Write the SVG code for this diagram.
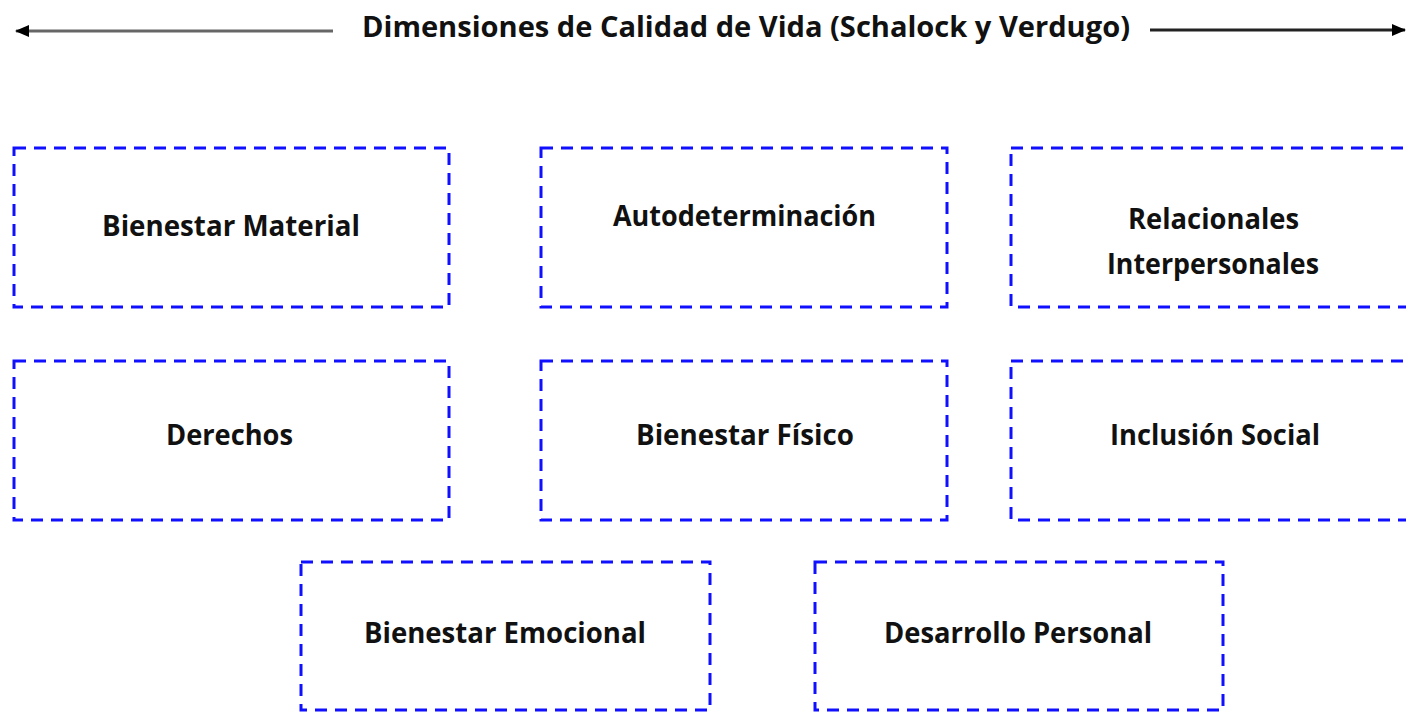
<svg xmlns="http://www.w3.org/2000/svg" width="1406" height="712" viewBox="0 0 1406 712">
<style>
.box{fill:none;stroke:#1010ff;stroke-width:3;stroke-dasharray:12 8}
.t{font-family:"Open Sans","Liberation Sans",sans-serif;font-weight:700;font-size:28px;fill:#111;text-anchor:start}
.ttl{font-family:"Open Sans","Liberation Sans",sans-serif;font-weight:700;font-size:28px;fill:#111}
.ln{stroke-width:3;fill:none}
</style>
<defs>
<marker id="ah" markerWidth="14" markerHeight="12" refX="13" refY="6" orient="auto" markerUnits="userSpaceOnUse" viewBox="0 0 14 12">
<path d="M0,0 L14,6 L0,12 z" fill="#000"/>
</marker>
</defs>
<g id="title">
<text class="ttl" x="362" y="37" textLength="768" lengthAdjust="spacingAndGlyphs">Dimensiones de Calidad de Vida (Schalock  y Verdugo)</text>
</g>
<g id="connectors">
<line class="ln" x1="333" y1="31" x2="16" y2="31" stroke="#666" marker-end="url(#ah)"/>
<line class="ln" x1="1150" y1="30" x2="1405" y2="30" stroke="#222" marker-end="url(#ah)"/>
</g>
<g id="n1"><rect class="box" x="14" y="148" width="435" height="159"/><text class="t" x="102" y="236" textLength="258" lengthAdjust="spacingAndGlyphs">Bienestar Material</text></g>
<g id="n2"><rect class="box" x="541" y="148" width="406" height="159"/><text class="t" x="613" y="226" textLength="263" lengthAdjust="spacingAndGlyphs">Autodeterminación</text></g>
<g id="n3"><rect class="box" x="1011" y="148" width="420" height="159"/><text class="t" x="1128" y="229" textLength="171" lengthAdjust="spacingAndGlyphs">Relacionales</text><text class="t" x="1107" y="274" textLength="212" lengthAdjust="spacingAndGlyphs">Interpersonales</text></g>
<g id="n4"><rect class="box" x="14" y="361" width="435" height="159"/><text class="t" x="166" y="445" textLength="127" lengthAdjust="spacingAndGlyphs">Derechos</text></g>
<g id="n5"><rect class="box" x="541" y="361" width="406" height="159"/><text class="t" x="636" y="445" textLength="218" lengthAdjust="spacingAndGlyphs">Bienestar Físico</text></g>
<g id="n6"><rect class="box" x="1011" y="361" width="420" height="159"/><text class="t" x="1110" y="445" textLength="210" lengthAdjust="spacingAndGlyphs">Inclusión Social</text></g>
<g id="n7"><rect class="box" x="301" y="562" width="409" height="148"/><text class="t" x="364" y="643" textLength="282" lengthAdjust="spacingAndGlyphs">Bienestar Emocional</text></g>
<g id="n8"><rect class="box" x="815" y="562" width="408" height="148"/><text class="t" x="884" y="643" textLength="268" lengthAdjust="spacingAndGlyphs">Desarrollo Personal</text></g>
</svg>
